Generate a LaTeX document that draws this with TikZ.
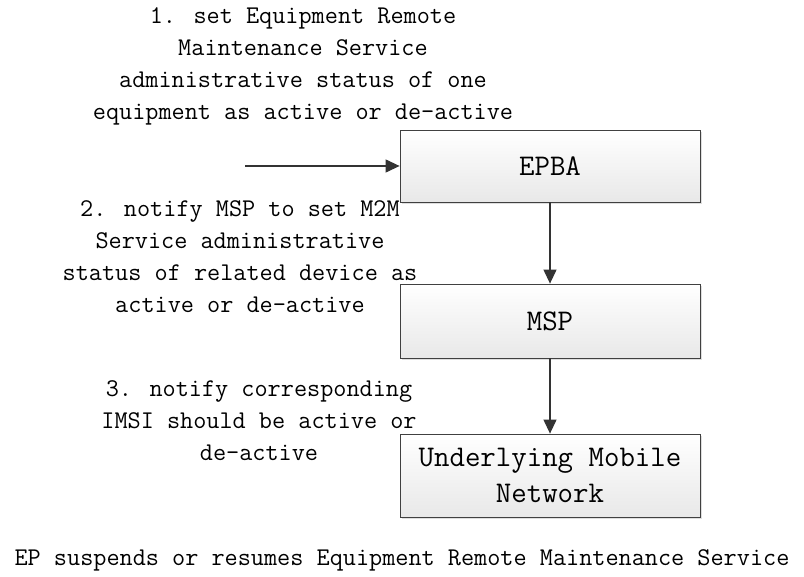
\documentclass[tikz,border=0pt]{standalone}
\usepackage{fontspec}
\usetikzlibrary{arrows.meta,shadows}
\tikzset{
	box/.style={draw=black!75, thick, minimum width=300pt, top color=white, bottom color=black!9,
		drop shadow={shadow xshift=2pt, shadow yshift=-2pt, fill=black!25},
		align=center, font=\ttfamily\fontsize{30}{36}\selectfont},
	note/.style={align=center, font=\ttfamily\fontsize{25.5}{32}\selectfont},
	flow/.style={-{Triangle[length=14pt,width=13pt]}, line width=1.2pt, draw=black!80}
}
\begin{document}
\begin{tikzpicture}[x=1pt,y=1pt]
	\useasboundingbox[fill=white] (0,0) rectangle (804,-577);
	
	\node[box, minimum height=72pt] (epba) at (550,-166) {EPBA};
	\node[box, minimum height=74pt] (msp) at (550,-321) {MSP};
	\node[box, minimum height=83pt] (umn) at (550,-475.5) {Underlying Mobile\\Network};
	
	\coordinate (start) at (245,-166);
	\draw[flow] (start) -- (epba.west);
	\draw[flow] (epba) -- (msp);
	\draw[flow] (msp) -- (umn);
	
	\node[note] (step1) at (303,-66) {1. set Equipment Remote\\Maintenance Service\\administrative status of one\\equipment as active or de-active};
	\node[note] (step2) at (240,-257) {2. notify MSP to set M2M\\Service administrative\\status of related device as\\active or de-active};
	\node[note] (step3) at (259,-421) {3. notify corresponding\\IMSI should be active or\\de-active};
	\node[note] (caption) at (402,-560) {EP suspends or resumes Equipment Remote Maintenance Service};
\end{tikzpicture}
\end{document}
